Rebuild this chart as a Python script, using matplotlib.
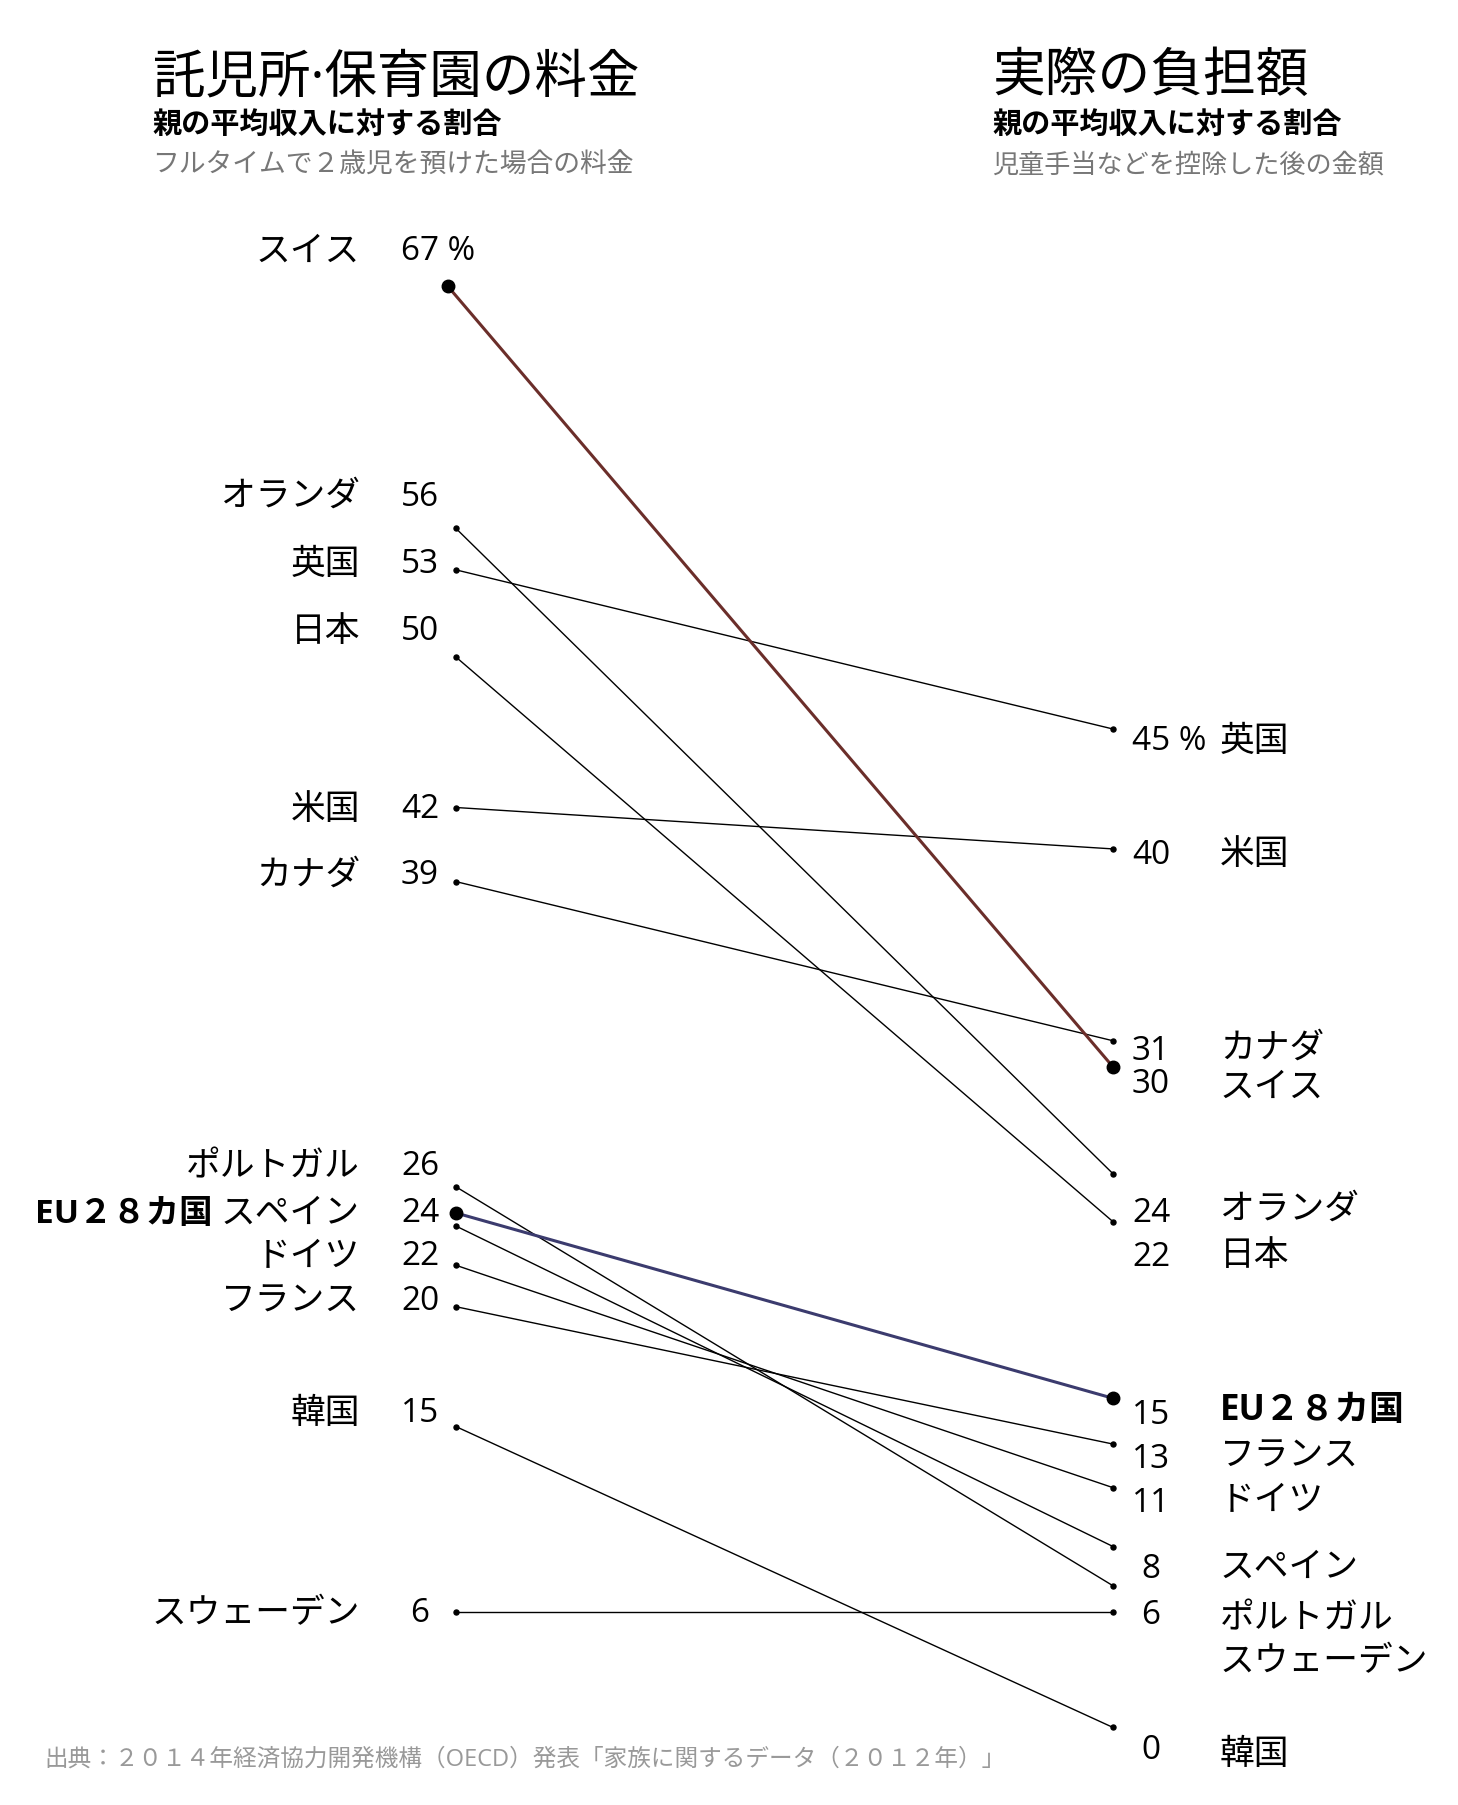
import matplotlib.pyplot as plt

plt.rcParams['font.family'] = ['Open Sans', 'Noto Sans CJK JP', 'DejaVu Sans']

W, H = 1458, 1806

# data: share of average income (%)
countries = ["スイス", "オランダ", "英国", "日本", "米国", "カナダ", "ポルトガル",
             "EU２８カ国", "スペイン", "ドイツ", "フランス", "韓国", "スウェーデン"]
fee = [66.4, 55.3, 53.4, 49.4, 42.5, 39.1, 25.1, 23.9, 23.3, 21.5, 19.6, 14.1, 5.6]
net = [30.6, 25.7, 46.1, 23.5, 40.6, 31.8, 6.8, 15.4, 8.6, 11.3, 13.3, 0.3, 5.6]

left_names = ["スイス", "オランダ", "英国", "日本", "米国", "カナダ", "ポルトガル",
              "スペイン", "ドイツ", "フランス", "韓国", "スウェーデン"]
left_nums = ["67 %", "56", "53", "50", "42", "39", "26", "24", "22", "20", "15", "6"]
right_nums = ["45 %", "40", "31", "30", "24", "22", "15", "13", "11", "8", "6", "0"]
right_names = ["英国", "米国", "カナダ", "スイス", "オランダ", "日本", "EU２８カ国",
               "フランス", "ドイツ", "スペイン", "ポルトガル", "スウェーデン", "韓国"]

# label layout (pixel rows)
left_y = [252, 497, 565, 632, 810, 876, 1167, 1214, 1257, 1302, 1414, 1614]
rnum_y = [742, 856, 1051, 1085, 1213, 1258, 1415, 1460, 1504, 1570, 1616, 1751]
rname_y = [742, 855, 1049, 1088, 1210, 1256, 1411, 1457, 1501, 1568, 1619, 1662, 1755]

fig = plt.figure(figsize=(W / 100, H / 100), dpi=100)
ax = fig.add_axes([0, 0, 1, 1])
# value v sits at pixel row 1735 - 21.8 v
ax.set_xlim(0, W)
ax.set_ylim((1735 - H) / 21.8, 1735 / 21.8)
ax.axis('off')

XL, XR = 456, 1113
highlight = {"スイス": "#6b2e2a", "EU２８カ国": "#3b3b6e"}
for c, a, b in zip(countries, fee, net):
    if c in highlight:
        xl = XL - 8 if c == "スイス" else XL
        ax.plot([xl, XR], [a, b], color=highlight[c], lw=2.2, zorder=2)
        ax.plot([xl, XR], [a, b], 'o', color='black', ms=9, zorder=3)
    else:
        ax.plot([XL, XR], [a, b], color='black', lw=1, zorder=1)
        ax.plot([XL, XR], [a, b], 'o', color='black', ms=3.6, zorder=3)


def T(x, y, s, **kw):
    fig.text(x / W, 1 - y / H, s, **kw)


# titles
T(153, 79, "託児所·保育園の料金", fontsize=37.8, va='center')
T(152, 125, "親の平均収入に対する割合", fontsize=21, fontweight='bold', va='center')
T(152, 166, "フルタイムで２歳児を預けた場合の料金", fontsize=19.3, color='#777777', va='center')
T(992, 77, "実際の負担額", fontsize=38, va='center')
T(992, 125, "親の平均収入に対する割合", fontsize=21, fontweight='bold', va='center')
T(992, 166, "児童手当などを控除した後の金額", fontsize=18.8, color='#777777', va='center')

# left labels
for name, num, y in zip(left_names, left_nums, left_y):
    T(360, y, name, fontsize=25, ha='right', va='center')
    if '%' in num:
        T(401, y, num, fontsize=24, ha='left', va='center')
    else:
        T(420, y, num, fontsize=24, ha='center', va='center')
T(213, left_y[7], "EU２８カ国", fontsize=24, fontweight='bold', ha='right', va='center')

# right labels
for num, y in zip(right_nums, rnum_y):
    if '%' in num:
        T(1132, y, num, fontsize=24, ha='left', va='center')
    else:
        T(1151, y, num, fontsize=24, ha='center', va='center')
for name, y in zip(right_names, rname_y):
    T(1220, y, name, fontsize=25, ha='left', va='center',
      fontweight='bold' if name.startswith('EU') else 'normal')

T(44, 1760, "出典：２０１４年経済協力開発機構（OECD）発表「家族に関するデータ（２０１２年）」",
  fontsize=17, color='#999999', va='center')

fig.savefig("out.png", dpi=100, facecolor='white')
